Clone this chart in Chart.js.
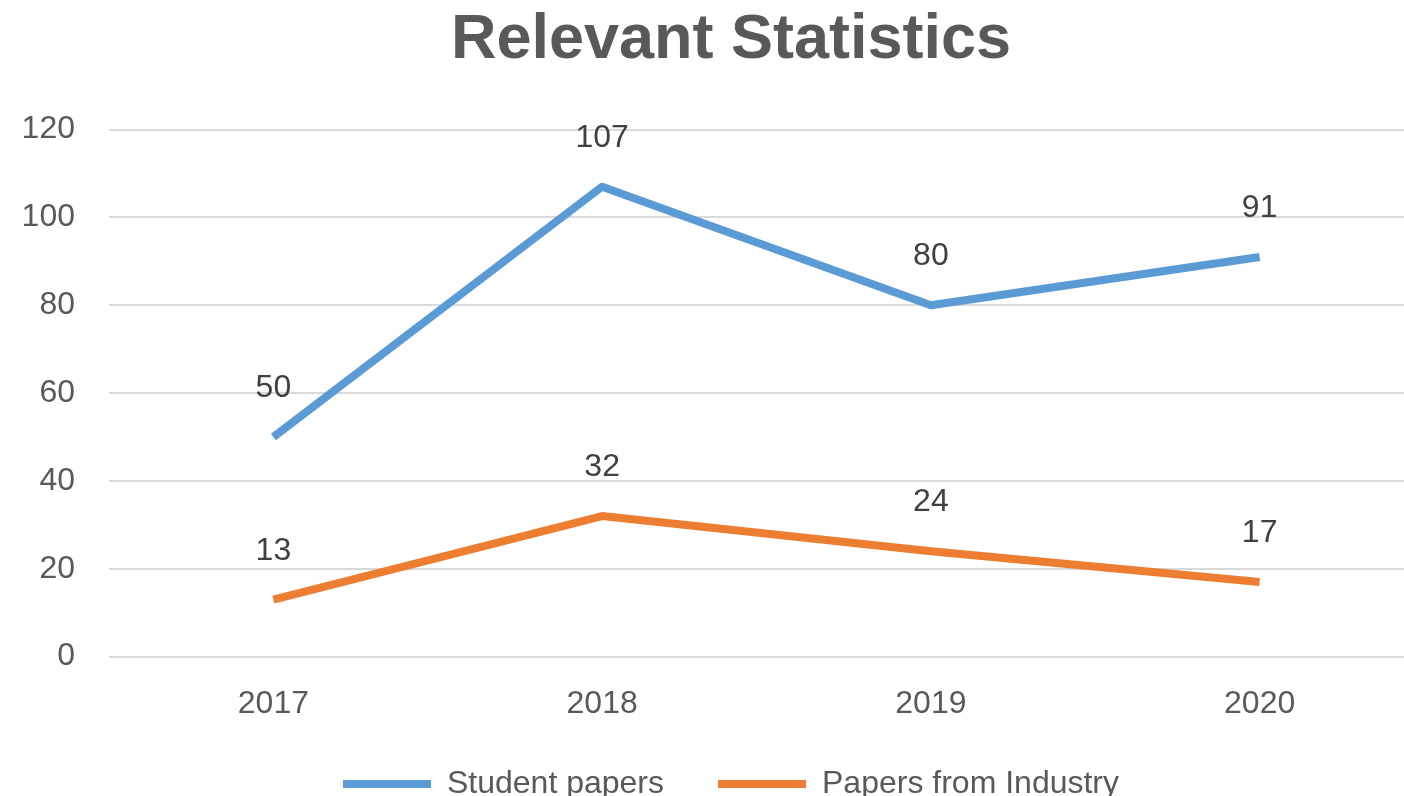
<!DOCTYPE html>
<html>
<head>
<meta charset="utf-8">
<script src="https://cdn.jsdelivr.net/npm/chart.js@4.4.1/dist/chart.umd.min.js"></script>
<style>
  html, body { margin: 0; padding: 0; background: #ffffff; overflow: hidden; }
  #wrap { width: 1462px; height: 796px; }
</style>
</head>
<body>
<div id="wrap"><canvas id="c" width="1462" height="796"></canvas></div>
<script>
const categories = ['2017', '2018', '2019', '2020'];
const studentPapers = [50, 107, 80, 91];
const industryPapers = [13, 32, 24, 17];
const seriesNames = ['Student papers', 'Papers from Industry'];
const yMin = 0, yMax = 120, yStep = 20;

const FONT = '"Liberation Sans", Arial, sans-serif';
const TXT = '#595959';

const dataLabels = {
  id: 'dataLabels',
  afterDatasetsDraw(chart) {
    const ctx = chart.ctx;
    ctx.save();
    ctx.font = '32px ' + FONT;
    ctx.fillStyle = '#404040';
    ctx.textAlign = 'center';
    ctx.textBaseline = 'alphabetic';
    chart.data.datasets.forEach((ds, i) => {
      const meta = chart.getDatasetMeta(i);
      meta.data.forEach((pt, j) => {
        ctx.fillText(String(ds.data[j]), pt.x, pt.y - 40);
      });
    });
    ctx.restore();
  }
};

new Chart(document.getElementById('c'), {
  type: 'line',
  data: {
    labels: categories,
    datasets: [
      {
        label: seriesNames[0],
        data: studentPapers,
        borderColor: '#5b9bd5',
        backgroundColor: '#5b9bd5',
        borderWidth: 8,
        pointRadius: 0,
        tension: 0,
        borderCapStyle: 'butt',
        borderJoinStyle: 'round'
      },
      {
        label: seriesNames[1],
        data: industryPapers,
        borderColor: '#ed7d31',
        backgroundColor: '#ed7d31',
        borderWidth: 8,
        pointRadius: 0,
        tension: 0,
        borderCapStyle: 'butt',
        borderJoinStyle: 'round'
      }
    ]
  },
  options: {
    responsive: false,
    animation: false,
    layout: { padding: { left: 21, right: 21, top: 3, bottom: -14 } },
    plugins: {
      tooltip: { enabled: false },
      title: {
        display: true,
        text: 'Relevant Statistics',
        color: TXT,
        font: { family: FONT, size: 63, weight: 'bold', lineHeight: 1.2 },
        padding: { top: 0, bottom: 51 }
      },
      legend: {
        position: 'bottom',
        labels: {
          color: TXT,
          font: { family: FONT, size: 32 },
          boxWidth: 88,
          boxHeight: 8,
          padding: 54,
          generateLabels(chart) {
            const items = Chart.defaults.plugins.legend.labels.generateLabels(chart);
            return items.map(it => Object.assign(it, { lineWidth: 0, fillStyle: it.strokeStyle }));
          }
        }
      }
    },
    scales: {
      x: {
        offset: true,
        grid: { display: false, drawTicks: false },
        border: { display: false },
        ticks: { color: TXT, font: { family: FONT, size: 32 }, padding: 28 },
        afterFit(scale) { scale.height -= 37; }
      },
      y: {
        min: yMin,
        max: yMax,
        grid: { color: '#d9d9d9', lineWidth: 2, drawTicks: false },
        border: { display: false },
        ticks: { stepSize: yStep, color: TXT, font: { family: FONT, size: 32 }, padding: 34 },
        afterFit(scale) { scale.width = 88; }
      },
      yRight: {
        position: 'right',
        display: true,
        grid: { display: false, drawTicks: false },
        border: { display: false },
        ticks: { display: false },
        afterFit(scale) { scale.width = 17; }
      }
    }
  },
  plugins: [dataLabels]
});
</script>
</body>
</html>
